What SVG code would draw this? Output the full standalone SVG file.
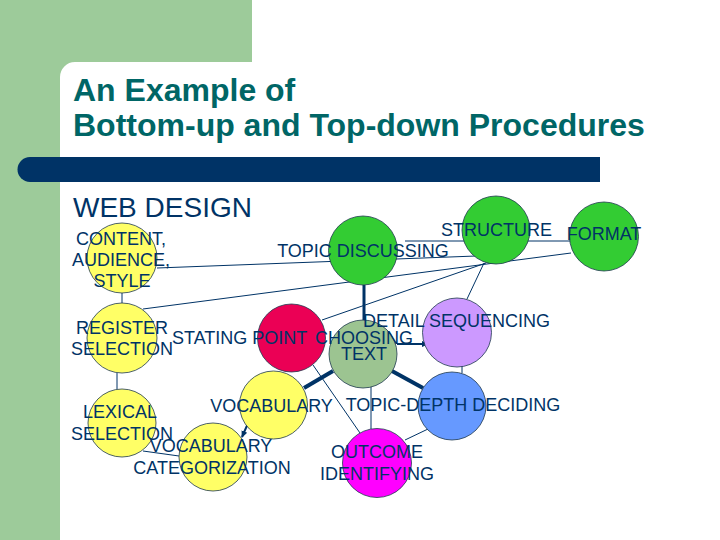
<svg xmlns="http://www.w3.org/2000/svg" width="720" height="540" viewBox="0 0 720 540">
<defs>
<style>
.bg{fill:#9dcb9a}
.bar{fill:#003366}
.title{font-family:"Liberation Sans",Arial,sans-serif;font-size:32px;font-weight:bold;fill:#006666}
.sub{font-family:"Liberation Sans",Arial,sans-serif;font-size:28px;fill:#003366}
.lbl{font-family:"Liberation Sans",Arial,sans-serif;font-size:18px;fill:#003366;text-anchor:middle}
.lbls{font-family:"Liberation Sans",Arial,sans-serif;font-size:18px;fill:#003366}
circle{stroke:#1f3a4f;stroke-width:0.8}
.yel{fill:#ffff66}
.red{fill:#eb0055}
.sage{fill:#9cc491}
.pur{fill:#cc99ff}
.blu{fill:#6699ff}
.mag{fill:#ff00ff}
.grn{fill:#33cc33}
.thin{stroke:#003366;stroke-width:1;fill:none}
.thick{stroke:#003366;stroke-width:4;fill:none}
.mid{stroke:#003366;stroke-width:3;fill:none}
.arr{stroke:#003366;stroke-width:2;fill:none;marker-end:url(#ah)}
</style>
<marker id="ah" markerWidth="8" markerHeight="8" refX="6" refY="4" orient="auto" markerUnits="userSpaceOnUse">
<path d="M0,1 L7,4 L0,7 Z" fill="#003366"/>
</marker>
</defs>
<rect width="720" height="540" fill="#ffffff"/>
<path class="bg" d="M0,0 H252 V62 H75 A15,15 0 0 0 60,77 V540 H0 Z"/>
<path class="bar" d="M30,157 H600 V182 H30 A12.5,12.5 0 0 1 30,157 Z"/>
<text class="title" x="73" y="101">An Example of</text>
<text class="title" x="73" y="136">Bottom-up and Top-down Procedures</text>
<text class="sub" x="73" y="217">WEB DESIGN</text>

<g id="connectors">
<line class="thin" x1="122" y1="293" x2="122" y2="303"/>
<line class="thin" x1="117" y1="373" x2="117" y2="389"/>
<line class="thin" x1="143" y1="451" x2="179" y2="456"/>
<line class="arr" x1="249" y1="421" x2="242" y2="437"/>
<line class="thick" x1="304" y1="388" x2="333" y2="371"/>
<line class="thick" x1="392" y1="371" x2="423" y2="388"/>
<line class="mid" x1="364" y1="285" x2="364" y2="322"/>
<line class="arr" x1="397" y1="344" x2="428" y2="344"/>
<line class="thin" x1="462" y1="366" x2="462" y2="373"/>
<line class="thin" x1="371" y1="386" x2="371" y2="429"/>
<line class="thin" x1="313" y1="365" x2="360" y2="433"/>
<line class="thin" x1="405" y1="440" x2="428" y2="429"/>
<line class="thin" x1="157" y1="268" x2="476" y2="256"/>
<line class="thin" x1="143" y1="309" x2="571" y2="253"/>
<line class="thin" x1="322" y1="320" x2="486" y2="263"/>
<line class="thin" x1="484" y1="263" x2="467" y2="299"/>
<line class="thin" x1="405" y1="241" x2="571" y2="241"/>
</g>

<g id="content">
<circle class="yel" cx="122" cy="258" r="35"/>
<text class="lbl" x="121" y="245">CONTENT,</text>
<text class="lbl" x="121" y="266">AUDIENCE,</text>
<text class="lbl" x="122" y="287">STYLE</text>
</g>
<g id="register">
<circle class="yel" cx="122" cy="338" r="35"/>
<text class="lbl" x="122" y="334">REGISTER</text>
<text class="lbl" x="122" y="355">SELECTION</text>
</g>
<g id="lexical">
<circle class="yel" cx="122" cy="423" r="34"/>
<text class="lbl" x="120" y="418">LEXICAL</text>
<text class="lbl" x="122" y="440">SELECTION</text>
</g>
<g id="vocabcat">
<circle class="yel" cx="213" cy="457" r="34"/>
<text class="lbl" x="211" y="452">VOCABULARY</text>
<text class="lbl" x="212" y="474">CATEGORIZATION</text>
</g>
<g id="vocabulary">
<circle class="yel" cx="273.5" cy="405" r="34"/>
<text class="lbl" x="271.5" y="412">VOCABULARY</text>
</g>
<g id="stating">
<circle class="red" cx="291.5" cy="338" r="34"/>
<text class="lbls" x="172" y="344">STATING POINT</text>
</g>
<g id="choosing">
<circle class="sage" cx="363" cy="354" r="34"/>
<text class="lbl" x="364" y="344">CHOOSING</text>
<text class="lbl" x="364" y="360">TEXT</text>
</g>
<g id="detail">
<circle class="pur" cx="457" cy="332.5" r="34.5"/>
<text class="lbl" x="456.5" y="327">DETAIL SEQUENCING</text>
</g>
<g id="depth">
<circle class="blu" cx="452" cy="406" r="34"/>
<text class="lbl" x="453" y="411">TOPIC-DEPTH DECIDING</text>
</g>
<g id="outcome">
<circle class="mag" cx="377" cy="463" r="34.5"/>
<text class="lbl" x="377" y="458">OUTCOME</text>
<text class="lbl" x="377" y="480">IDENTIFYING</text>
</g>
<g id="topic">
<circle class="grn" cx="363" cy="250.5" r="34.5"/>
<text class="lbl" x="363" y="257">TOPIC DISCUSSING</text>
</g>
<g id="structure">
<circle class="grn" cx="496" cy="230" r="34"/>
<text class="lbl" x="496.5" y="236">STRUCTURE</text>
</g>
<g id="format">
<circle class="grn" cx="604" cy="236.5" r="34.5"/>
<text class="lbl" x="604" y="240">FORMAT</text>
</g>
</svg>
